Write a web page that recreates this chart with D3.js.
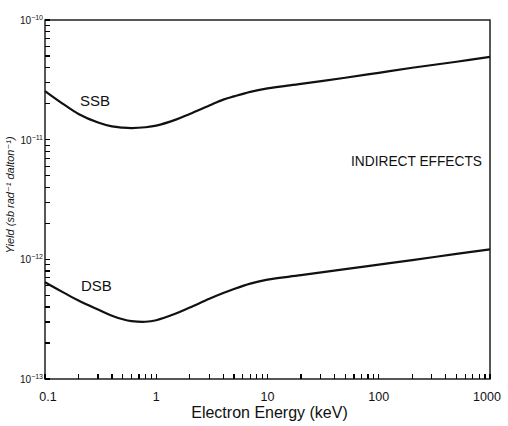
<!DOCTYPE html>
<html lang="en">
<head>
  <meta charset="UTF-8">
  <title>Indirect effects yield vs electron energy</title>
  <style>
    body { margin: 0; background: #fff; }
    svg { display: block; }
    text { font-family: 'Liberation Sans', 'DejaVu Sans', sans-serif; fill: #111; }
  </style>
</head>
<body>
<svg width="508" height="426"></svg>
<script src="https://d3js.org/d3.v7.min.js"></script>
<script>
// electron energy (keV)
const energy = [0.1, 0.15, 0.2, 0.3, 0.4, 0.5, 0.6, 0.8, 1, 1.5, 2, 3, 4, 5, 7, 10, 20, 50, 100, 200, 500, 1000];
// yield, sb rad^-1 dalton^-1
const ssb = [2.55e-11, 1.95e-11, 1.64e-11, 1.39e-11, 1.29e-11, 1.26e-11, 1.25e-11, 1.27e-11, 1.31e-11, 1.47e-11, 1.64e-11,
  1.93e-11, 2.16e-11, 2.30e-11, 2.51e-11, 2.68e-11, 2.93e-11, 3.29e-11, 3.62e-11, 3.99e-11, 4.48e-11, 4.92e-11];
const dsb = [6.44e-13, 5.22e-13, 4.52e-13, 3.80e-13, 3.38e-13, 3.16e-13, 3.05e-13, 3.01e-13, 3.10e-13, 3.52e-13, 3.95e-13,
  4.68e-13, 5.23e-13, 5.65e-13, 6.26e-13, 6.77e-13, 7.37e-13, 8.28e-13, 9.03e-13, 9.86e-13, 1.11e-12, 1.21e-12];
const xTickLabels = ["0.1", "1", "10", "100", "1000"];
const yDecades = [-10, -11, -12, -13];

const svg = d3.select("svg");
const mLeft = 45, mRight = 490, mTop = 20, mBottom = 379;

const x = d3.scaleLog().domain([0.1, 1000]).range([mLeft, mRight]);
const y = d3.scaleLog().domain([1e-13, 1e-10]).range([mBottom, mTop]);

// frame
svg.append("rect")
  .attr("x", mLeft).attr("y", mTop)
  .attr("width", mRight - mLeft).attr("height", mBottom - mTop)
  .attr("fill", "none").attr("stroke", "#111").attr("stroke-width", 1.4);

// minor ticks, pointing inward
const g = svg.append("g").attr("stroke", "#000").attr("stroke-width", 1.2)
  .attr("shape-rendering", "crispEdges");
g.selectAll(".xt").data(x.ticks()).join("line")
  .attr("class", "xt")
  .attr("x1", d => x(d)).attr("x2", d => x(d))
  .attr("y1", mBottom).attr("y2", mBottom - 5);
g.selectAll(".yt").data(y.ticks()).join("line")
  .attr("class", "yt")
  .attr("x1", mLeft).attr("x2", mLeft + 5)
  .attr("y1", d => y(d)).attr("y2", d => y(d));

// x tick labels
svg.selectAll(".xl").data(xTickLabels).join("text")
  .attr("x", (d, i) => Math.min(x(+d) + (i === 0 ? 3 : 0), 487))
  .attr("y", 401)
  .attr("text-anchor", "middle")
  .attr("font-size", 12.5)
  .text(d => d);

// y tick labels 10^n
const yl = svg.selectAll(".yl").data(yDecades).join("text")
  .attr("x", mLeft - 2)
  .attr("y", d => y(Math.pow(10, d)) + 4)
  .attr("text-anchor", "end")
  .attr("font-size", 10);
yl.append("tspan").text("10");
yl.append("tspan").attr("font-size", 7).attr("dy", -4).text(d => "\u2212" + Math.abs(d));

// axis titles
svg.append("text")
  .attr("x", (mLeft + mRight) / 2 + 2).attr("y", 418)
  .attr("text-anchor", "middle")
  .attr("font-size", 16)
  .text("Electron Energy (keV)");

svg.append("text")
  .attr("transform", "translate(14,195) rotate(-90)")
  .attr("text-anchor", "middle")
  .attr("font-size", 11)
  .attr("font-style", "italic")
  .text("Yield (sb rad\u207B\u00B9 dalton\u207B\u00B9)");

// curves
const line = d3.line()
  .x((d, i) => x(energy[i]))
  .y(d => y(d))
  .curve(d3.curveCatmullRom.alpha(0.5));

[ssb, dsb].forEach(s => {
  svg.append("path")
    .attr("d", line(s))
    .attr("fill", "none")
    .attr("stroke", "#111")
    .attr("stroke-width", 2.2);
});

// curve labels
svg.append("text").attr("x", 80).attr("y", 106).attr("font-size", 15).text("SSB");
svg.append("text").attr("x", 81).attr("y", 291).attr("font-size", 15).text("DSB");
svg.append("text").attr("x", 351).attr("y", 166).attr("font-size", 14)
  .attr("textLength", 131).attr("lengthAdjust", "spacingAndGlyphs")
  .text("INDIRECT EFFECTS");
</script>
</body>
</html>
